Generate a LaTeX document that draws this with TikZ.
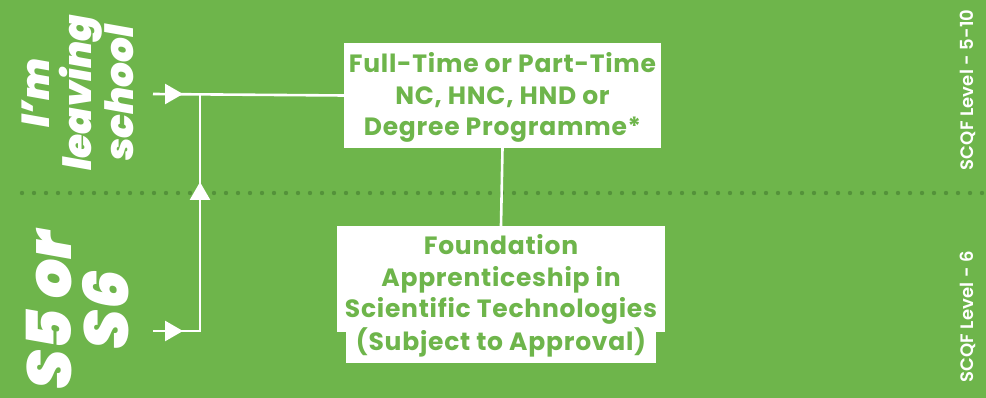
\documentclass[tikz,border=0pt]{standalone}
\usepackage{fontspec}
\setmainfont{Poppins SemiBold}
\newfontfamily\heavyit{Poppins Black Italic}
\newfontfamily\semib{Poppins SemiBold}[LetterSpace=1]
\newfontfamily\boldf{Poppins Bold}[LetterSpace=3]
\usetikzlibrary{arrows.meta}
\definecolor{bg}{RGB}{110,181,75}
\definecolor{dotc}{RGB}{84,146,58}
\tikzset{
  wline/.style={draw=white, line width=2.6pt},
  tip/.style={-{Triangle[length=18pt,width=20pt]}, draw=white, fill=white, line width=2.6pt},
  boxnode/.style={fill=white, inner sep=0pt},
  boxtext/.style={inner sep=0pt, align=center, text=bg, font=\boldf\fontsize{25}{31.5}\selectfont},
  sidelab/.style={rotate=90, text=white, font=\semib\fontsize{18}{20}\selectfont},
  biglab/.style={rotate=90, text=white, align=center}
}
\begin{document}
\begin{tikzpicture}[x=1pt,y=-1pt]
\fill[bg] (0,0) rectangle (986,398);
\useasboundingbox (0,0) rectangle (986,398);
% dotted divider
\draw[dotc, line width=4.4pt, line cap=round, dash pattern=on 0pt off 12pt] (22,193) -- (986,193);
% boxes
\node[boxnode, minimum width=317pt, minimum height=105pt] (ft) at (502.5,95.5) {};
\node[boxnode, minimum width=328pt, minimum height=106pt] (fa) at (501,279) {};
\node[boxnode, minimum width=310pt, minimum height=31pt, anchor=north] (fb) at (fa.south) {};
\node[boxtext] (ftt) at ([yshift=-2pt]ft.center) {Full-Time or Part-Time\\NC, HNC, HND or\\Degree Programme*};
\node[boxtext] (fat) at ([yshift=-0.6pt]fa.center) {Foundation\\Apprenticeship in\\Scientific Technologies};
\node[boxtext, anchor=base] (fbt) at (501,350) {(Subject to Approval)};
\draw[wline] (ft.south) -- (fa.north);
% left connectors
\coordinate (in1) at (153,94);
\coordinate (in2) at (153,331);
\coordinate (j1) at (200,94);
\coordinate (j2) at (200,331);
\coordinate (t1) at (183,94);
\coordinate (t2) at (183,331);
\coordinate (t3) at (200,182);
\draw[wline] (in1) -- (ft.west);
\draw[wline] (in2) -- (j2) -- (j1);
\draw[tip] (in1) -- (t1);
\draw[tip] (in2) -- (t2);
\draw[tip] (j2) -- (t3);
% labels
\node[biglab, font=\heavyit\fontsize{39}{42}\selectfont] (leave) at (78,93) {I’m\\leaving\\school};
\node[biglab, font=\heavyit\fontsize{62}{57}\selectfont] (s56) at (78,310) {S5 or\\S6};
\node[sidelab] (l1) at (968,90) {SCQF Level - 5-10};
\node[sidelab] (l2) at (968,317) {SCQF Level - 6};
\end{tikzpicture}
\end{document}
